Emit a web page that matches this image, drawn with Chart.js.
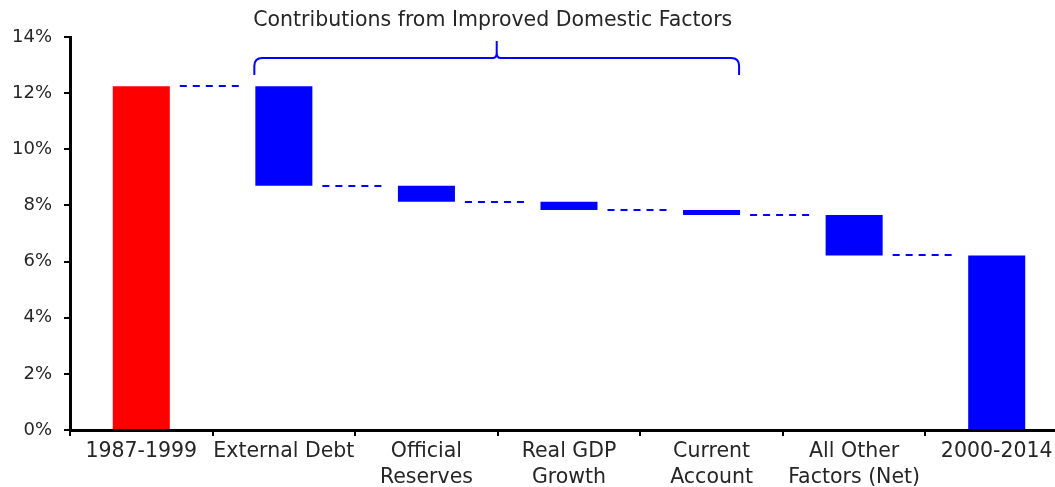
<!DOCTYPE html>
<html>
<head>
<meta charset="utf-8">
<script src="https://cdn.jsdelivr.net/npm/chart.js@4.4.1/dist/chart.umd.min.js"></script>
<style>
    html, body { margin: 0; padding: 0; background: #fff; overflow: hidden; }
    #wrap { width: 1068px; height: 487px; }
</style>
</head>
<body>
<div id="wrap"><canvas id="waterfallChart" width="1068" height="487"></canvas></div>
<script>
// Categories along the x axis
const categories = [
    '1987-1999',
    'External Debt',
    ['Official', 'Reserves'],
    ['Real GDP', 'Growth'],
    ['Current', 'Account'],
    ['All Other', 'Factors (Net)'],
    '2000-2014'
];

// Period totals (%) and the change from each factor (% points)
const periodTotals = [12.25, 6.22];
const factorChanges = [-3.55, -0.57, -0.29, -0.18, -1.44];

// Y axis tick values
const yTicks = [0, 2, 4, 6, 8, 10, 12, 14];

const bracketLabel = 'Contributions from Improved Domestic Factors';

// Colors
const colors = {
    red: '#ff0000',
    blue: '#0000ff',
    text: '#262626',
    axis: '#000000'
};

// Build floating bars and the level each bar ends at
const barData = [periodTotals[0]];
const levels = [periodTotals[0]];
let running = periodTotals[0];
factorChanges.forEach(change => {
    const next = running + change;
    barData.push([Math.min(running, next), Math.max(running, next)]);
    levels.push(next);
    running = next;
});
barData.push(periodTotals[1]);
levels.push(periodTotals[1]);

const barColors = barData.map((_, i) => i === 0 ? colors.red : colors.blue);

// Dashed connectors between bars
const connectorPlugin = {
    id: 'connectors',
    afterDatasetsDraw(chart) {
        const ctx = chart.ctx;
        const bars = chart.getDatasetMeta(0).data;
        const y = chart.scales.y;
        ctx.save();
        ctx.strokeStyle = colors.blue;
        ctx.lineWidth = 2;
        ctx.setLineDash([7, 6]);
        for (let i = 0; i < bars.length - 1; i++) {
            const a = bars[i], b = bars[i + 1];
            const py = Math.round(y.getPixelForValue(levels[i]));
            ctx.beginPath();
            ctx.moveTo(a.x + a.width / 2 + 10, py);
            ctx.lineTo(b.x - b.width / 2 - 12, py);
            ctx.stroke();
        }
        ctx.restore();
    }
};

// Curly bracket with label above the factor bars
const bracketPlugin = {
    id: 'bracket',
    afterDraw(chart) {
        const ctx = chart.ctx;
        const bars = chart.getDatasetMeta(0).data;
        const top = chart.scales.y.getPixelForValue(yTicks[yTicks.length - 1]);
        const x1 = bars[1].x - bars[1].width / 2 - 1;
        const x2 = bars[4].x + bars[4].width / 2 - 1;
        const xm = (x1 + x2) / 2;
        const yLine = top + 21;
        const yEnd = top + 38;
        const yTip = top + 4;
        const r = 8;

        ctx.save();
        ctx.strokeStyle = colors.blue;
        ctx.lineWidth = 2;
        ctx.beginPath();
        ctx.moveTo(x1, yEnd);
        ctx.lineTo(x1, yLine + r);
        ctx.quadraticCurveTo(x1, yLine, x1 + r, yLine);
        ctx.lineTo(xm - 4, yLine);
        ctx.quadraticCurveTo(xm, yLine, xm, yLine - 5);
        ctx.lineTo(xm, yTip);
        ctx.moveTo(xm, yLine - 5);
        ctx.quadraticCurveTo(xm, yLine, xm + 4, yLine);
        ctx.lineTo(x2 - r, yLine);
        ctx.quadraticCurveTo(x2, yLine, x2, yLine + r);
        ctx.lineTo(x2, yEnd);
        ctx.stroke();

        ctx.fillStyle = colors.text;
        ctx.font = '20.5px "DejaVu Sans", sans-serif';
        ctx.textAlign = 'center';
        ctx.textBaseline = 'middle';
        ctx.fillText(bracketLabel, xm - 4, top - 16);
        ctx.restore();
    }
};

new Chart(document.getElementById('waterfallChart'), {
    type: 'bar',
    data: {
        labels: categories,
        datasets: [{
            data: barData,
            backgroundColor: barColors,
            borderWidth: 0,
            categoryPercentage: 1,
            barPercentage: 0.4
        }]
    },
    options: {
        responsive: false,
        animation: false,
        layout: { padding: { top: 37, left: 0, right: 0, bottom: 0 } },
        plugins: {
            legend: { display: false },
            tooltip: { enabled: false }
        },
        scales: {
            x: {
                afterFit: s => { s.height = 57; },
                border: { color: colors.axis, width: 3 },
                grid: {
                    drawOnChartArea: false,
                    drawTicks: true,
                    tickLength: 6,
                    color: colors.axis,
                    lineWidth: 2
                },
                ticks: {
                    color: colors.text,
                    font: { family: '"DejaVu Sans", sans-serif', size: 20.5, lineHeight: 1.3 },
                    padding: 2,
                    maxRotation: 0,
                    autoSkip: false
                }
            },
            y: {
                min: 0,
                max: 14,
                afterFit: s => { s.width = 70; },
                afterBuildTicks: s => { s.ticks = yTicks.map(v => ({ value: v })); },
                border: { color: colors.axis, width: 3 },
                grid: {
                    drawOnChartArea: false,
                    drawTicks: true,
                    tickLength: 6,
                    color: colors.axis,
                    lineWidth: 2
                },
                ticks: {
                    color: colors.text,
                    font: { family: '"DejaVu Sans", sans-serif', size: 18 },
                    padding: 12,
                    callback: v => v + '%'
                }
            }
        }
    },
    plugins: [connectorPlugin, bracketPlugin]
});
</script>
</body>
</html>
